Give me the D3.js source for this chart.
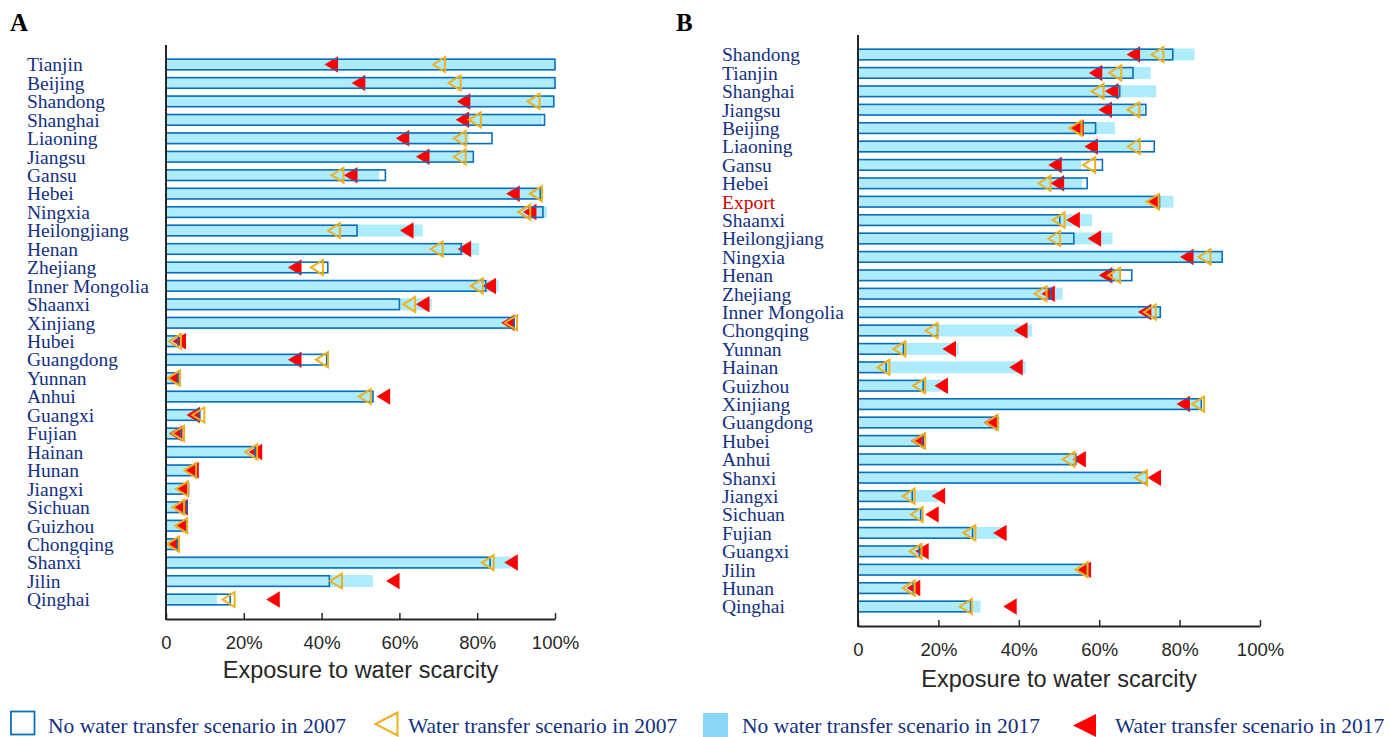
<!DOCTYPE html>
<html>
<head>
<meta charset="utf-8">
<script src="https://cdn.jsdelivr.net/npm/d3@7/dist/d3.min.js"></script>
<style>
  html, body { margin: 0; padding: 0; background: #fff; }
  svg { display: block; }
</style>
</head>
<body>
<svg id="chart" width="1390" height="737"></svg>
<script>
// ---------------- DATA ----------------
const catsA = ["Tianjin","Beijing","Shandong","Shanghai","Liaoning","Jiangsu","Gansu","Hebei","Ningxia","Heilongjiang","Henan","Zhejiang","Inner Mongolia","Shaanxi","Xinjiang","Hubei","Guangdong","Yunnan","Anhui","Guangxi","Fujian","Hainan","Hunan","Jiangxi","Sichuan","Guizhou","Chongqing","Shanxi","Jilin","Qinghai"];
const noTransfer2007A = [100,100,99.7,97.3,83.8,79,56.4,96.2,96.9,49.1,75.9,41.6,82.2,60,89.5,3.1,41.3,3.1,53.2,8.7,3.7,22.9,7.7,5.8,5.3,5.3,2.9,83.3,42,16.5];
const noTransfer2017A = [100,100,99.5,96.7,77.9,78.8,54.8,96.2,97.9,66,80.5,33.5,85.5,68.3,89.5,3.1,33.5,3.1,53.2,8.7,3.7,22.9,7.7,5.8,5.3,5.3,2.9,88.6,53.2,13.1];
const transfer2007A = [70.2,74.2,94.5,79.4,75.5,75.5,44.1,95.1,92.1,43.2,69.6,38.8,79.9,62.5,88.7,2.3,40.1,2.0,51.1,8.3,3.1,21.9,6.2,4.1,3.1,3.9,1.8,82.7,43.7,16.1];
const transfer2017A = [42.5,49.5,76.5,76.2,60.8,66,47.5,89.2,93.5,61.9,76.7,33.1,83.1,66,87.9,3.4,33.1,2.0,55.9,7.0,2.5,23,6.7,4.2,3.9,3.9,1.8,88.7,58.3,27.5];

const catsB = ["Shandong","Tianjin","Shanghai","Jiangsu","Beijing","Liaoning","Gansu","Hebei","Export","Shaanxi","Heilongjiang","Ningxia","Henan","Zhejiang","Inner Mongolia","Chongqing","Yunnan","Hainan","Guizhou","Xinjiang","Guangdong","Hubei","Anhui","Shanxi","Jiangxi","Sichuan","Fujian","Guangxi","Jilin","Hunan","Qinghai"];
const noTransfer2007B = [78.3,68.4,65.1,71.6,59.1,73.7,60.8,57,75,50.2,53.7,90.6,68.1,48.1,75.2,19.8,11.3,7.0,16.2,85.4,34.8,16,54.2,71.9,13.5,15.6,28.5,15.3,57.1,13.9,28];
const noTransfer2017B = [83.7,72.8,74.2,71.2,63.9,70.3,55.5,55.8,78.5,58.2,63.3,90.6,65.3,50.9,75.2,43.3,25,41.7,22.2,85.4,35.2,16.7,54.2,71.9,20.1,16,36.8,16.5,57.1,14.6,30.5];
const transfer2007B = [74.5,64,59.6,68.5,54.1,68.6,57.5,46.4,73.3,49.9,48.8,86.2,63.7,45.4,72.6,18.3,10.3,6.3,15.2,84.6,33.3,15.2,52.4,70.4,12.6,14.6,27.7,14.3,55.6,12.6,26.8];
const transfer2017B = [68.5,59.1,63.1,61.5,54.5,58,49,49.6,73.4,53.5,58.8,81.8,61.6,47.3,71.3,40.5,22.7,39.3,20.7,80.9,32.9,14.8,55,73.7,20,18.4,35.3,15.9,56.3,13.8,37.8];

const tickValues = [0,20,40,60,80,100];
const axisTitle = "Exposure to water scarcity";
const legendLabels = ["No water transfer scenario in 2007","Water transfer scenario in 2007","No water transfer scenario in 2017","Water transfer scenario in 2017"];

// ---------------- STYLE ----------------
const C = {
  outline: "#0a6fba",
  fill: "#aeebfc",
  legendFill: "#8bd6f6",
  orange: "#edb120",
  red: "#ff0000",
  label: "#13307f",
  export: "#c80000",
  axis: "#262626"
};
const serif = "'Liberation Serif','Times New Roman',serif";
const sans = "'Liberation Sans',Arial,sans-serif";

const svg = d3.select("#chart");

function triPath(cx, cy, w, h) {
  return `M${cx - w/2},${cy} L${cx + w/2},${cy - h/2} L${cx + w/2},${cy + h/2} Z`;
}

function panel(opt) {
  const g = svg.append("g");
  const x = d3.scaleLinear().domain([0, 100]).range([opt.left, opt.right]);
  const y = d3.scalePoint().domain(opt.cats).range([opt.top + 19.5, opt.bottom - 19.5]);
  const rows = opt.cats.map((c, i) => ({
    c, o7: opt.o7[i], f17: opt.f17[i], t7: opt.t7[i], t17: opt.t17[i]
  }));
  const bh = 12;

  g.selectAll("rect.fill").data(rows).enter().append("rect")
    .attr("class", "fill")
    .attr("x", x(0))
    .attr("y", d => y(d.c) - bh/2)
    .attr("width", d => x(d.f17) - x(0))
    .attr("height", bh)
    .attr("fill", C.fill);

  g.selectAll("path.red").data(rows).enter().append("path")
    .attr("class", "red")
    .attr("d", d => triPath(x(d.t17), y(d.c), 13.5, 16.5))
    .attr("fill", C.red);

  g.selectAll("rect.out").data(rows).enter().append("rect")
    .attr("class", "out")
    .attr("x", x(0))
    .attr("y", d => y(d.c) - (bh - 1.4)/2)
    .attr("width", d => x(d.o7) - x(0))
    .attr("height", bh - 1.4)
    .attr("fill", "none")
    .attr("stroke", C.outline)
    .attr("stroke-width", 1.6);

  g.selectAll("path.orange").data(rows).enter().append("path")
    .attr("class", "orange")
    .attr("d", d => triPath(x(d.t7), y(d.c), 12, 15))
    .attr("fill", "none")
    .attr("stroke", C.orange)
    .attr("stroke-width", 2)
    .attr("stroke-linejoin", "miter");

  g.selectAll("text.cat").data(rows).enter().append("text")
    .attr("class", "cat")
    .attr("x", opt.labelX)
    .attr("y", d => y(d.c) + 6.8)
    .attr("font-family", serif)
    .attr("font-size", "19.5px")
    .attr("fill", d => d.c === "Export" ? C.export : C.label)
    .text(d => d.c);

  const ax = g.append("g")
    .attr("transform", `translate(0,${opt.bottom})`)
    .call(d3.axisBottom(x).tickValues(tickValues).tickSizeInner(-6).tickSizeOuter(0)
      .tickFormat(d => d === 0 ? "0" : d + "%"));
  ax.select(".domain").attr("stroke", C.axis).attr("stroke-width", 2);
  ax.selectAll(".tick line").attr("stroke", C.axis).attr("stroke-width", 1.5);
  ax.selectAll(".tick text")
    .attr("y", 29.5).attr("dy", null)
    .attr("font-family", sans).attr("font-size", "18.5px").attr("fill", C.axis);

  g.append("line")
    .attr("x1", x(0)).attr("x2", x(0))
    .attr("y1", opt.top).attr("y2", opt.bottom + 1)
    .attr("stroke", C.axis).attr("stroke-width", 2);

  g.append("text")
    .attr("x", (x(0) + x(100)) / 2)
    .attr("y", opt.bottom + opt.titleOffset)
    .attr("text-anchor", "middle")
    .attr("font-family", sans)
    .attr("font-size", "23.5px")
    .attr("fill", C.axis)
    .text(axisTitle);

  g.append("text")
    .attr("x", opt.letterX).attr("y", 31)
    .attr("font-family", serif).attr("font-weight", "bold")
    .attr("font-size", "25px").attr("fill", "#000")
    .text(opt.letter);
}

panel({ cats: catsA, o7: noTransfer2007A, f17: noTransfer2017A, t7: transfer2007A, t17: transfer2017A,
  left: 166, right: 555, top: 45, bottom: 619, labelX: 27, titleOffset: 59, letter: "A", letterX: 10 });
panel({ cats: catsB, o7: noTransfer2007B, f17: noTransfer2017B, t7: transfer2007B, t17: transfer2017B,
  left: 858, right: 1260, top: 35, bottom: 626, labelX: 722, titleOffset: 60.5, letter: "B", letterX: 676 });

// ---------------- LEGEND ----------------
const lg = svg.append("g");
const legendItems = [
  { kind: "outline", sx: 11, tx: 48 },
  { kind: "orange", sx: 375, tx: 408 },
  { kind: "fill", sx: 703, tx: 742 },
  { kind: "red", sx: 1073, tx: 1115 }
];
legendItems.forEach((it, i) => {
  if (it.kind === "outline") {
    lg.append("rect").attr("x", it.sx).attr("y", 711.5).attr("width", 23.5).attr("height", 23)
      .attr("fill", "none").attr("stroke", C.outline).attr("stroke-width", 1.8);
  } else if (it.kind === "fill") {
    lg.append("rect").attr("x", it.sx).attr("y", 713).attr("width", 25).attr("height", 24)
      .attr("fill", C.legendFill);
  } else if (it.kind === "orange") {
    lg.append("path").attr("d", triPath(it.sx + 11.5, 724, 22, 23))
      .attr("fill", "none").attr("stroke", C.orange).attr("stroke-width", 2);
  } else {
    lg.append("path").attr("d", triPath(it.sx + 11.5, 725.5, 23, 23))
      .attr("fill", C.red);
  }
  lg.append("text").attr("x", it.tx).attr("y", 733)
    .attr("font-family", serif).attr("font-size", "21.5px").attr("fill", C.label)
    .text(legendLabels[i]);
});
</script>
</body>
</html>
